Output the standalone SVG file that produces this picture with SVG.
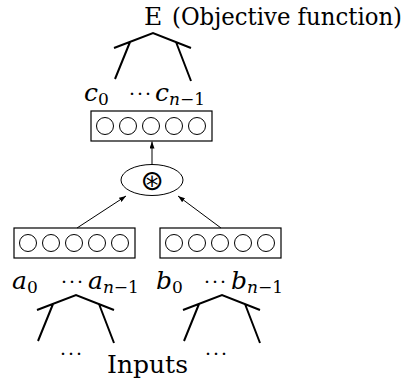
<svg xmlns="http://www.w3.org/2000/svg" width="410" height="388" viewBox="0 0 410 388">
<style>
.t{font-family:"DejaVu Serif","Liberation Serif",serif;font-size:25px;fill:#000}
.d{font-family:"DejaVu Serif","Liberation Serif",serif;font-size:19px;fill:#000;letter-spacing:2px}
.m{font-family:"DejaVu Serif","Liberation Serif",serif;font-style:italic;font-size:25px;fill:#000}
.s{font-size:17px;font-style:normal}
.si{font-size:17px}
.tree{fill:none;stroke:#000;stroke-width:2}
.box{fill:#fff;stroke:#000;stroke-width:1.2}
.cell{fill:#fff;stroke:#000;stroke-width:1}
.arr{stroke:#000;stroke-width:1;fill:none;marker-end:url(#ah)}
</style>
<defs>
<marker id="ah" viewBox="0 0 7 5" refX="7" refY="2.5" markerWidth="7" markerHeight="5" markerUnits="userSpaceOnUse" orient="auto">
<path d="M0,0 L7,2.5 L0,5 z" fill="#000"/>
</marker>
<g id="tr"><path class="tree" d="M-39,15 L0,0 L38,15 M-23,9 L-38,46 M23,9 L38,48"/></g>
<g id="cells">
<circle class="cell" cx="14" cy="15" r="8.5"/><circle class="cell" cx="37" cy="15" r="8.5"/><circle class="cell" cx="60" cy="15" r="8.5"/><circle class="cell" cx="83" cy="15" r="8.5"/><circle class="cell" cx="106" cy="15" r="8.5"/>
</g>
</defs>
<g id="objective">
<text class="t" x="144" y="25">E</text>
<text class="t" x="172" y="25" style="font-size:23.5px" textLength="230" lengthAdjust="spacingAndGlyphs">(Objective function)</text>
<use href="#tr" x="153" y="33"/>
</g>
<g id="c-label">
<text class="m" x="84" y="101">c<tspan class="si s" dy="4">0</tspan></text>
<text class="d" x="129" y="100">···</text>
<text class="m" x="155" y="101">c<tspan class="si" dy="4">n</tspan><tspan class="s">−1</tspan></text>
</g>
<g id="c-layer">
<rect class="box" x="91" y="111" width="121" height="30"/>
<use href="#cells" x="91" y="111"/>
</g>
<g id="op">
<ellipse cx="152" cy="180" rx="31" ry="15.5" fill="#fff" stroke="#000" stroke-width="1"/>
<text x="152" y="190" text-anchor="middle" style="font-family:'DejaVu Sans',sans-serif;font-size:28px">⊛</text>
</g>
<g id="a-layer">
<rect class="box" x="14" y="228" width="121" height="30"/>
<use href="#cells" x="14" y="228"/>
</g>
<g id="b-layer">
<rect class="box" x="160" y="228" width="121" height="30"/>
<use href="#cells" x="160" y="228"/>
</g>
<g id="a-label">
<text class="m" x="12" y="289">a<tspan class="si s" dy="4">0</tspan></text>
<text class="d" x="61" y="288">···</text>
<text class="m" x="88" y="289">a<tspan class="si" dy="4">n</tspan><tspan class="s">−1</tspan></text>
<use href="#tr" x="76" y="295"/>
</g>
<g id="b-label">
<text class="m" x="156" y="289">b<tspan class="si s" dy="4">0</tspan></text>
<text class="d" x="204" y="288">···</text>
<text class="m" x="231" y="289">b<tspan class="si" dy="4">n</tspan><tspan class="s">−1</tspan></text>
<use href="#tr" x="222" y="295"/>
</g>
<g id="inputs">
<text class="d" x="60" y="360">···</text>
<text class="t" x="107" y="373" textLength="81" lengthAdjust="spacingAndGlyphs">Inputs</text>
<text class="d" x="205" y="360">···</text>
</g>
<g id="connectors">
<line class="arr" x1="77" y1="228" x2="126" y2="196"/>
<line class="arr" x1="221" y1="228" x2="178" y2="196"/>
<line class="arr" x1="152" y1="164.5" x2="152" y2="141.5"/>
</g>
</svg>
